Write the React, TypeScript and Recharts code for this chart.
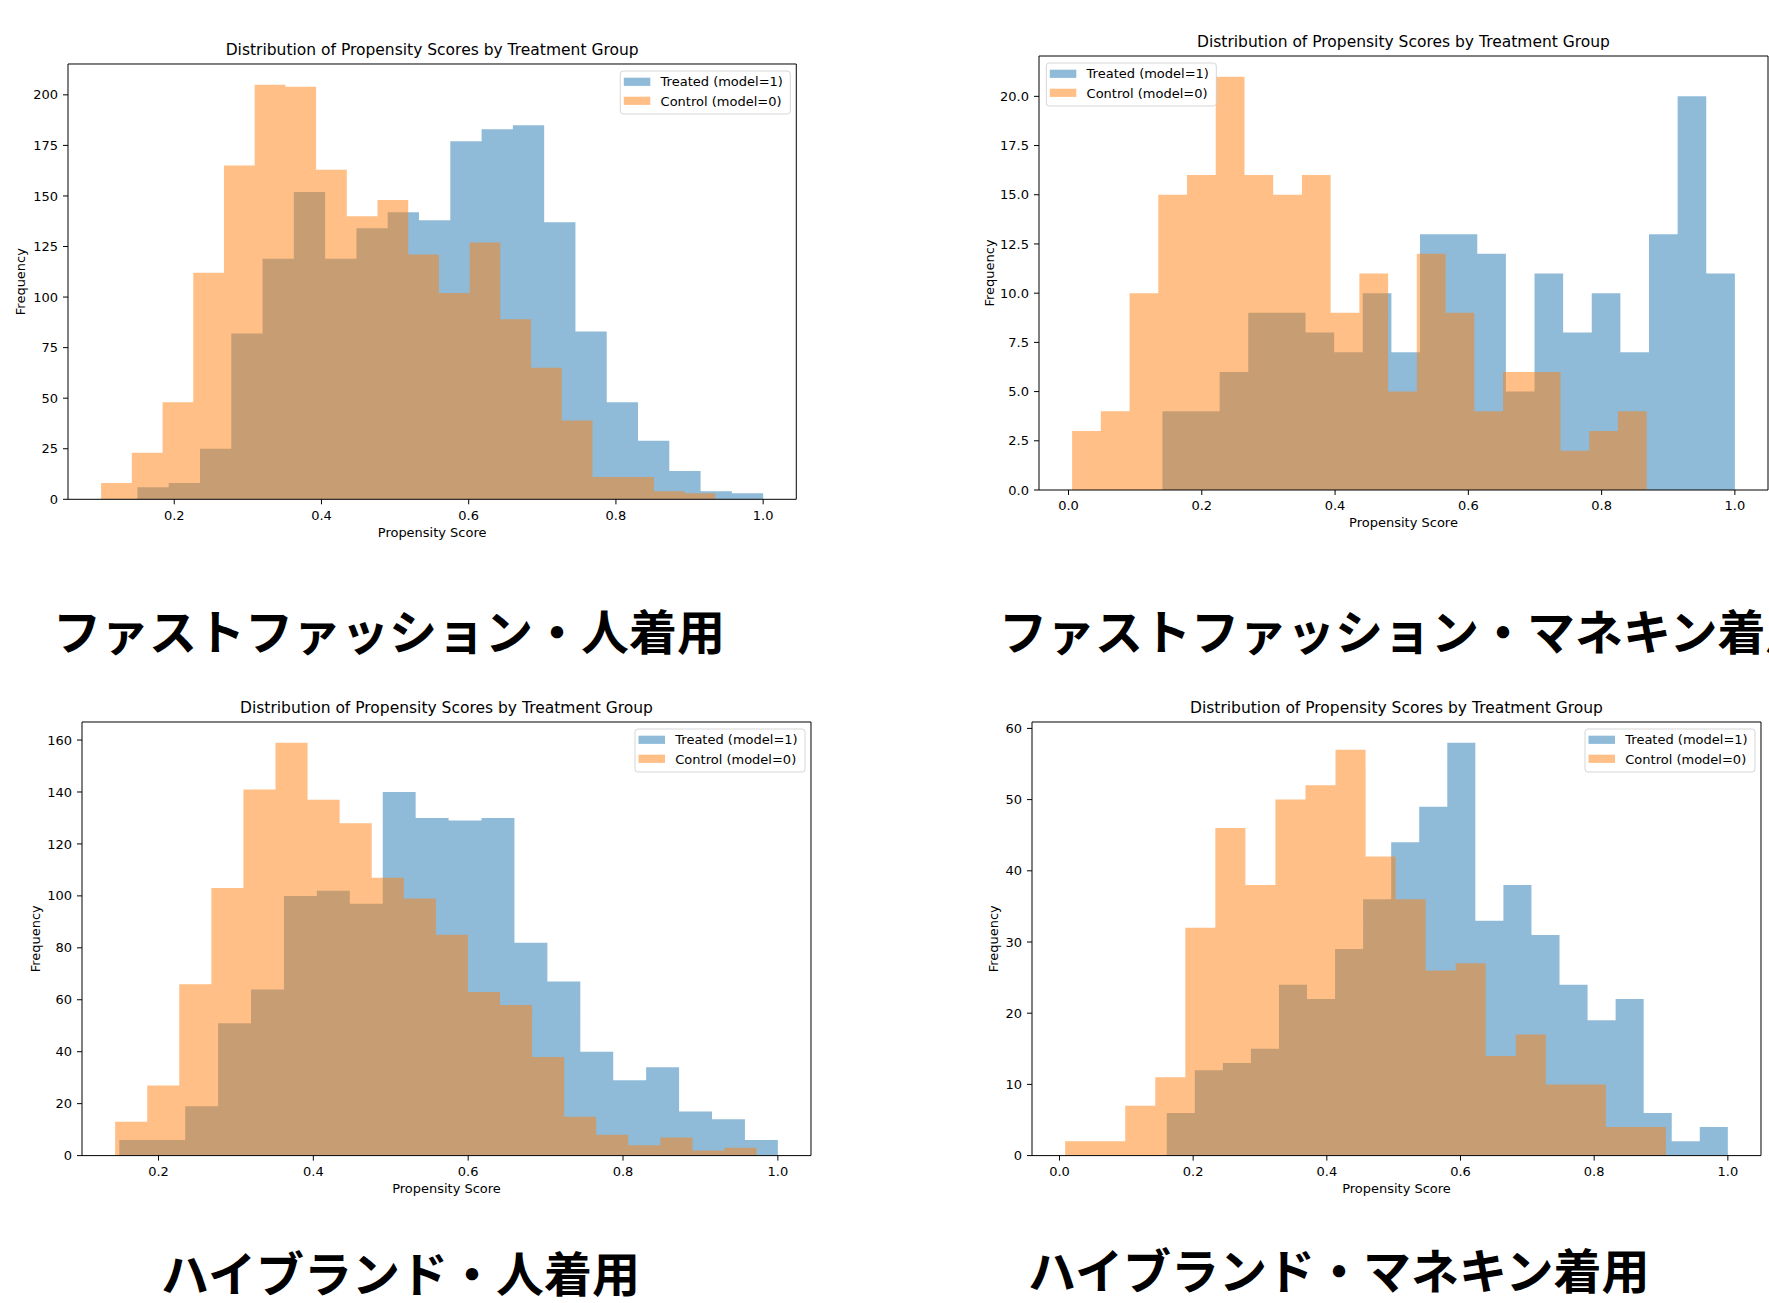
import { ComposedChart, Area, XAxis, YAxis, ReferenceLine } from 'recharts'

const FONT = '"DejaVu Sans", sans-serif'
const JP_FONT = '"Noto Sans CJK JP", sans-serif'
const BLUE = '#1f77b4'
const ORANGE = '#ff7f0e'
const TITLE = 'Distribution of Propensity Scores by Treatment Group'

// 20 bin counts per group, plus the score range the bins span
const ffHumanTreated = [6, 8, 25, 82, 119, 152, 119, 134, 142, 138, 177, 183, 185, 137, 83, 48, 29, 14, 4, 3]
const ffHumanControl = [8, 23, 48, 112, 165, 205, 204, 163, 140, 148, 121, 102, 127, 89, 65, 39, 11, 11, 4, 3]
const ffHumanTreatedRange = [0.150, 1.0]
const ffHumanControlRange = [0.1007, 0.935]

const ffMannequinTreated = [4, 4, 6, 9, 9, 8, 7, 10, 7, 13, 13, 12, 5, 11, 8, 10, 7, 13, 20, 11]
const ffMannequinControl = [3, 4, 10, 15, 16, 21, 16, 15, 16, 9, 11, 5, 12, 9, 4, 6, 6, 2, 3, 4]
const ffMannequinTreatedRange = [0.1409, 1.0]
const ffMannequinControlRange = [0.0054, 0.8676]

const hbHumanTreated = [6, 6, 19, 51, 64, 100, 102, 97, 140, 130, 129, 130, 82, 67, 40, 29, 34, 17, 14, 6]
const hbHumanControl = [13, 27, 66, 103, 141, 159, 137, 128, 107, 99, 85, 63, 58, 38, 15, 8, 4, 7, 2, 3]
const hbHumanTreatedRange = [0.1494, 1.0]
const hbHumanControlRange = [0.144, 0.9725]

const hbMannequinTreated = [6, 12, 13, 15, 24, 22, 29, 36, 44, 49, 58, 33, 38, 31, 24, 19, 22, 6, 2, 4]
const hbMannequinControl = [2, 2, 7, 11, 32, 46, 38, 50, 52, 57, 42, 36, 26, 27, 14, 17, 10, 10, 4, 4]
const hbMannequinTreatedRange = [0.1605, 1.0]
const hbMannequinControlRange = [0.0085, 0.9074]

const xTicksFrom02 = [0.2, 0.4, 0.6, 0.8, 1.0]
const xTicksFrom0 = [0.0, 0.2, 0.4, 0.6, 0.8, 1.0]
const yTicksFF = [0, 25, 50, 75, 100, 125, 150, 175, 200]
const yTicksFFM = [0, 2.5, 5, 7.5, 10, 12.5, 15, 17.5, 20]
const yTicksHB = [0, 20, 40, 60, 80, 100, 120, 140, 160]
const yTicksHBM = [0, 10, 20, 30, 40, 50, 60]

const captions = [
  { text: 'ファストファッション・人着用', x: 53, y: 649.5 },
  { text: 'ファストファッション・マネキン着用', x: 999, y: 650 },
  { text: 'ハイブランド・人着用', x: 161, y: 1292 },
  { text: 'ハイブランド・マネキン着用', x: 1028, y: 1288.5 },
]

// histogram as a step outline: one point per left bin edge, plus the right edge
function steps(counts: number[], range: number[]) {
  const w = (range[1] - range[0]) / counts.length
  const pts = counts.map((c, i) => ({ x: range[0] + i * w, y: c }))
  pts.push({ x: range[1], y: counts[counts.length - 1] })
  return pts
}

const YW = 60
const MT = 30
const MR = 10
const XH = 45

interface PanelProps {
  left: number
  top: number
  w: number
  h: number
  treated: number[]
  control: number[]
  treatedRange: number[]
  controlRange: number[]
  xDomain: [number, number]
  yMax: number
  xTicks: number[]
  yTicks: number[]
  yDecimals: number
  yLabelOffset: number
  legendLeft?: boolean
}

function Panel(p: PanelProps) {
  const cw = YW + p.w + MR
  const ch = MT + p.h + XH
  const bw = 170
  const bh = 43
  const bx = p.legendLeft ? YW + 7.3 : YW + p.w - 6 - bw
  const by = MT + 7
  const tick = { fill: '#000', fontSize: 13, fontFamily: FONT }
  return (
    <div style={{ position: 'absolute', left: p.left - YW, top: p.top - MT, width: cw, height: ch }}>
      <ComposedChart width={cw} height={ch} margin={{ top: MT, right: MR, left: 0, bottom: 0 }}>
        <XAxis
          type="number" dataKey="x" domain={p.xDomain} allowDataOverflow ticks={p.xTicks} interval={0}
          tickFormatter={(v: number) => v.toFixed(1)} height={XH} tickSize={5} tickMargin={6}
          stroke="#000" tick={tick}
          label={{ value: 'Propensity Score', position: 'insideBottom', offset: 7.6, style: { fill: '#000', fontSize: 13, fontFamily: FONT } }}
        />
        <YAxis
          type="number" domain={[0, p.yMax]} allowDataOverflow ticks={p.yTicks} interval={0}
          tickFormatter={(v: number) => v.toFixed(p.yDecimals)} width={YW} tickSize={5} tickMargin={5}
          stroke="#000" tick={tick}
          label={{ value: 'Frequency', angle: -90, position: 'insideLeft', offset: p.yLabelOffset, style: { textAnchor: 'middle', fill: '#000', fontSize: 13, fontFamily: FONT } }}
        />
        <Area data={steps(p.treated, p.treatedRange)} dataKey="y" type="stepAfter" fill={BLUE} fillOpacity={0.5}
          stroke="none" dot={false} activeDot={false} isAnimationActive={false} />
        <Area data={steps(p.control, p.controlRange)} dataKey="y" type="stepAfter" fill={ORANGE} fillOpacity={0.5}
          stroke="none" dot={false} activeDot={false} isAnimationActive={false} />
        <ReferenceLine x={p.xDomain[1]} stroke="#000" strokeWidth={1} />
        <ReferenceLine y={p.yMax} stroke="#000" strokeWidth={1} />
      </ComposedChart>
      <svg width={cw} height={ch} style={{ position: 'absolute', left: 0, top: 0, pointerEvents: 'none' }}>
        <text x={YW + p.w / 2} y={MT - 9} textAnchor="middle" fontSize={15.5} fontFamily={FONT} fill="#000">{TITLE}</text>
        <rect x={bx} y={by} width={bw} height={bh} rx={3} fill="#fff" fillOpacity={0.8} stroke="#cccccc" strokeOpacity={0.8} />
        <rect x={bx + 3.5} y={by + 6.7} width={26.5} height={8.2} fill={BLUE} fillOpacity={0.5} />
        <rect x={bx + 3.5} y={by + 25.7} width={26.5} height={8.2} fill={ORANGE} fillOpacity={0.5} />
        <text x={bx + 40.3} y={by + 15.4} fontSize={13} fontFamily={FONT} fill="#000">Treated (model=1)</text>
        <text x={bx + 40.3} y={by + 34.5} fontSize={13} fontFamily={FONT} fill="#000">Control (model=0)</text>
      </svg>
    </div>
  )
}

export default function App() {
  return (
    <div style={{ position: 'absolute', left: 0, top: 0, width: 1769, height: 1303, overflow: 'hidden', background: '#fff' }}>
      <Panel left={67.7} top={64} w={728.3} h={435.3}
        treated={ffHumanTreated} control={ffHumanControl}
        treatedRange={ffHumanTreatedRange} controlRange={ffHumanControlRange}
        xDomain={[0.0557, 1.045]} yMax={215.25} xTicks={xTicksFrom02} yTicks={yTicksFF} yDecimals={0} yLabelOffset={12.7} />
      <Panel left={1038.7} top={56} w={729} h={434}
        treated={ffMannequinTreated} control={ffMannequinControl}
        treatedRange={ffMannequinTreatedRange} controlRange={ffMannequinControlRange}
        xDomain={[-0.0443, 1.0497]} yMax={22.05} xTicks={xTicksFrom0} yTicks={yTicksFFM} yDecimals={1} yLabelOffset={10} legendLeft />
      <Panel left={82.4} top={721.7} w={729} h={433.6}
        treated={hbHumanTreated} control={hbHumanControl}
        treatedRange={hbHumanTreatedRange} controlRange={hbHumanControlRange}
        xDomain={[0.1012, 1.0428]} yMax={166.95} xTicks={xTicksFrom02} yTicks={yTicksHB} yDecimals={0} yLabelOffset={13} />
      <Panel left={1032} top={721.7} w={729} h={433.6}
        treated={hbMannequinTreated} control={hbMannequinControl}
        treatedRange={hbMannequinTreatedRange} controlRange={hbMannequinControlRange}
        xDomain={[-0.0411, 1.0496]} yMax={60.9} xTicks={xTicksFrom0} yTicks={yTicksHBM} yDecimals={0} yLabelOffset={21} />
      <svg width={1769} height={1303} style={{ position: 'absolute', left: 0, top: 0, pointerEvents: 'none' }}>
        {captions.map(c => (
          <text key={c.text} x={c.x} y={c.y} fontSize={48} fontWeight={700} fontFamily={JP_FONT} fill="#000">{c.text}</text>
        ))}
      </svg>
    </div>
  )
}
